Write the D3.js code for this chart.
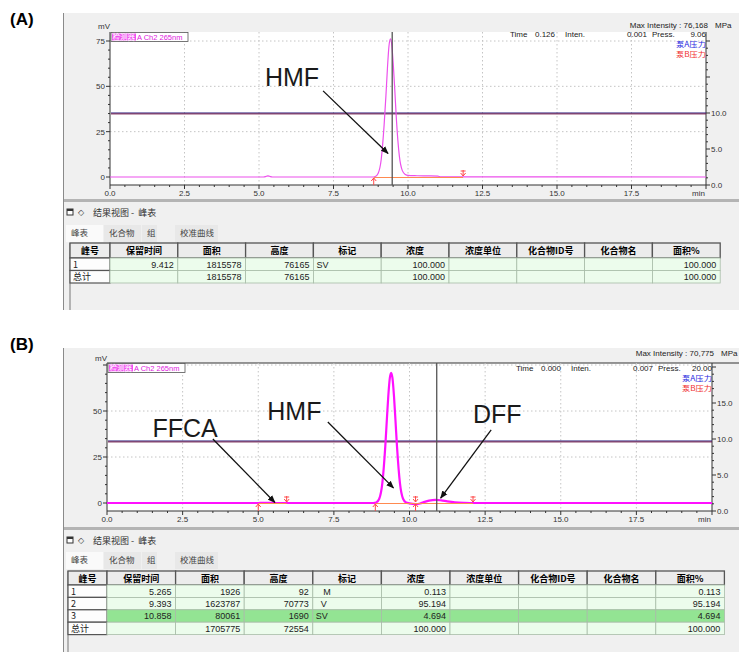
<!DOCTYPE html>
<html><head><meta charset="utf-8">
<script src="https://cdn.jsdelivr.net/npm/d3@7"></script>
<style>
body{margin:0;background:#fff}
text{font-family:"Liberation Sans",Arial,sans-serif}
.cjk{font-family:"Noto Sans CJK SC",sans-serif}
</style>
</head><body>
<svg width="739" height="652"></svg>
<script>
// ---------- data ----------
var colNames = ["峰号","保留时间","面积","高度","标记","浓度","浓度单位","化合物ID号","化合物名","面积%"];

var peakA = ["1","总计"],
    rtA   = ["9.412",""],
    areaA = ["1815578","1815578"],
    htA   = ["76165","76165"],
    markA = ["SV",""],
    concA = ["100.000","100.000"],
    pctA  = ["100.000","100.000"];

var peakB = ["1","2","3","总计"],
    rtB   = ["5.265","9.393","10.858",""],
    areaB = ["1926","1623787","80061","1705775"],
    htB   = ["92","70773","1690","72554"],
    markB = ["   M","  V","SV",""],
    concB = ["0.113","95.194","4.694","100.000"],
    pctB  = ["0.113","95.194","4.694","100.000"];

var xTicks = [0,2.5,5,7.5,10,12.5,15,17.5,20],
    xTickLabels = ["0.0","2.5","5.0","7.5","10.0","12.5","15.0","17.5","min"];
var yTicksA = [0,25,50,75], yTicksB = [0,25,50];
var rTicksA = [0,5,10], rTicksB = [0,5,10,15];
var rTickLabels = ["0.0","5.0","10.0","15.0"];

// chromatogram traces (min, mV)
var timeA = [0,5.15,5.25,5.3,5.35,5.45,8.8,8.9,9.0,9.1,9.2,9.26,9.31,9.36,9.412,9.46,9.51,9.56,9.61,9.71,9.81,9.91,10.0,10.3,10.6,11.0,11.1,20],
    mvA   = [0,0,0.4,0.6,0.4,0,0,0.3,2.1,9.5,29,45,60,72,76.2,72,61,47,32,11.5,3.5,1.4,0.9,0.7,0.6,0.5,0.1,0];
var timeB = [0,5.0,5.1,5.265,5.45,5.6,8.8,8.9,9.0,9.1,9.2,9.25,9.3,9.35,9.393,9.436,9.486,9.536,9.586,9.686,9.786,9.886,10.0,10.2,10.35,10.5,10.65,10.858,11.05,11.25,11.5,11.8,12.0,20],
    mvB   = [0,0,0.04,0.09,0.03,0,0,0.3,2.3,10.5,30.9,45,58.4,68,70.8,68,58.4,45,30.9,10.5,2.3,0.3,-0.2,-0.6,-0.3,0.6,1.3,1.7,1.4,0.9,0.4,0.1,0,0];

// pump pressure (MPa)
var pressA = 10.0, pressB = 9.72;
var cursorA = 9.47, cursorB = 10.9;

// baseline marks: start/end times
var baseStartA = [8.85], baseEndA = [11.85];
var baseStartB = [5.0, 8.87, 10.2], baseEndB = [5.94, 10.2, 12.1];

// annotations
var annoA = ["HMF"], annoTA = [5.2], annoVA = [50], annoFromTA = [7.15], annoFromVA = [47.5], annoToTA = [9.33], annoToVA = [13];
var annoB = ["FFCA","HMF","DFF"],
    annoTB = [1.5,5.3,12.1], annoVB = [36,45,43.5],
    annoFromTB = [3.5,7.3,12.7], annoFromVB = [34.8,44,39.7],
    annoToTB = [5.55,9.47,11.03], annoToVB = [0.3,8.2,2.7];

var infoA = {max:"76,168", time:"0.126", inten:"0.001", press:"9.06"};
var infoB = {max:"70,775", time:"0.000", inten:"0.007", press:"20.00"};

// ---------- drawing ----------
var svg = d3.select("svg");
var defs = svg.append("defs");
defs.append("marker").attr("id","arr").attr("viewBox","0 0 10 10")
  .attr("refX",9).attr("refY",5).attr("markerWidth",6).attr("markerHeight",6)
  .attr("orient","auto").append("path").attr("d","M0,1L10,5L0,9z").attr("fill","#111");

function drawPanel(L, d){
  var g = svg.append("g");
  g.append("text").attr("x",10).attr("y",L.labY).attr("font-size",17).attr("font-weight","bold").text(L.label);

  // chart window
  g.append("rect").attr("x",63).attr("y",L.winTop).attr("width",676).attr("height",L.winBot-L.winTop).attr("fill","#f0f0f0");
  g.append("rect").attr("x",63).attr("y",L.winBot).attr("width",676).attr("height",3).attr("fill","#b4b4b4");
  g.append("rect").attr("x",63).attr("y",L.winBot+3).attr("width",676).attr("height",L.resBot-L.winBot-3).attr("fill","#f0f0f0");
  g.append("line").attr("x1",63.5).attr("x2",63.5).attr("y1",L.winTop).attr("y2",L.resBot).attr("stroke","#8a8a8a");

  var x = d3.scaleLinear().domain([0,20]).range([L.x0,L.x1]);
  var y = d3.scaleLinear().domain([0,75]).range([L.y0,L.y75]);
  var yR = d3.scaleLinear().domain([0,10]).range([L.bot,L.bot-72]);

  g.append("rect").attr("x",L.x0).attr("y",L.top).attr("width",L.x1-L.x0).attr("height",L.bot-L.top).attr("fill","#fff");
  if(L.topLine) g.append("line").attr("x1",L.x0).attr("x2",739).attr("y1",L.top).attr("y2",L.top).attr("stroke","#333").attr("stroke-width",1.2);

  // grid
  g.selectAll(".gx").data(xTicks.slice(1,-1)).enter().append("line")
    .attr("x1",d=>x(d)).attr("x2",d=>x(d)).attr("y1",L.top).attr("y2",L.bot)
    .attr("stroke","#c4c4c4").attr("stroke-dasharray","1.5,2.5");
  g.selectAll(".gy").data([25,50,75].filter(v=>y(v)>L.top)).enter().append("line")
    .attr("x1",L.x0).attr("x2",L.x1).attr("y1",d=>y(d)).attr("y2",d=>y(d))
    .attr("stroke","#c4c4c4").attr("stroke-dasharray","1.5,2.5");

  // axes
  var ax = g.append("g").attr("stroke","#333").attr("stroke-width",1);
  ax.append("line").attr("x1",L.x0).attr("x2",L.x0).attr("y1",L.top).attr("y2",L.bot);
  ax.append("line").attr("x1",L.x0).attr("x2",L.x1).attr("y1",L.bot).attr("y2",L.bot);
  ax.append("line").attr("x1",L.x1).attr("x2",L.x1).attr("y1",L.top).attr("y2",L.bot);
  d3.range(0,20.01,0.5).forEach(function(t){
    var major = Math.abs(t/2.5-Math.round(t/2.5))<1e-6;
    ax.append("line").attr("x1",x(t)).attr("x2",x(t)).attr("y1",L.bot).attr("y2",L.bot+(major?4:2));
  });
  d3.range(-5,80,5).filter(v=>y(v)>=L.top&&y(v)<=L.bot).forEach(function(v){
    var major = v%25===0;
    ax.append("line").attr("x1",L.x0-(major?4:2)).attr("x2",L.x0).attr("y1",y(v)).attr("y2",y(v));
  });
  d3.range(0,21,1).filter(v=>yR(v)>=L.top).forEach(function(v){
    var major = v%5===0;
    ax.append("line").attr("x1",L.x1).attr("x2",L.x1+(major?4:2)).attr("y1",yR(v)).attr("y2",yR(v));
  });
  g.selectAll(".xl").data(xTicks).enter().append("text")
    .attr("x",(d,i)=>i===xTicks.length-1?x(d)-1:x(d)).attr("y",L.bot+11)
    .attr("text-anchor",(d,i)=>i===xTicks.length-1?"end":"middle")
    .attr("font-size",8).attr("fill","#333").text((d,i)=>xTickLabels[i]);
  g.selectAll(".yl").data(d.yTicks).enter().append("text")
    .attr("x",L.x0-5).attr("y",v=>y(v)+3).attr("text-anchor","end")
    .attr("font-size",8).attr("fill","#333").text(v=>v);
  g.selectAll(".rl").data(d.rTicks).enter().append("text")
    .attr("x",L.x1+5).attr("y",v=>yR(v)+3)
    .attr("font-size",8).attr("fill","#333").text((v,i)=>rTickLabels[i]);
  g.append("text").attr("x",L.x0-12).attr("y",L.mvY+3).attr("font-size",8).attr("fill","#333").text("mV");

  // header info
  var tb = L.timeY+2.5;
  var inf = g.append("g").attr("font-size",8).attr("fill","#222");
  inf.append("text").attr("x",L.x1+2).attr("y",L.maxY+2.5).attr("text-anchor","end").text("Max Intensity : "+d.info.max);
  inf.append("text").attr("x",L.x1+9).attr("y",L.maxY+2.5).text("MPa");
  inf.append("text").attr("x",L.x1-196).attr("y",tb).text("Time");
  inf.append("text").attr("x",L.x1-151).attr("y",tb).attr("text-anchor","end").text(d.info.time);
  inf.append("text").attr("x",L.x1-141).attr("y",tb).text("Inten.");
  inf.append("text").attr("x",L.x1-59).attr("y",tb).attr("text-anchor","end").text(d.info.inten);
  inf.append("text").attr("x",L.x1-54).attr("y",tb).text("Press.");
  inf.append("text").attr("x",L.x1).attr("y",tb).attr("text-anchor","end").text(d.info.press);
  g.append("text").attr("class","cjk").attr("x",L.x1-30).attr("y",tb+10.5).attr("font-size",7)
    .attr("textLength",30).attr("lengthAdjust","spacingAndGlyphs").attr("fill","#2a2ae0").text("泵A压力");
  g.append("text").attr("class","cjk").attr("x",L.x1-30).attr("y",tb+20.8).attr("font-size",7)
    .attr("textLength",30).attr("lengthAdjust","spacingAndGlyphs").attr("fill","#f03030").text("泵B压力");

  // legend box
  g.append("rect").attr("x",L.x0+1).attr("y",L.top+0.5).attr("width",77).attr("height",9).attr("fill","#fff").attr("stroke","#555").attr("stroke-width",0.8);
  g.append("rect").attr("x",L.x0+2).attr("y",L.top+1.5).attr("width",24).attr("height",7).attr("fill","#f050f0");
  g.append("text").attr("class","cjk").attr("x",L.x0+2.5).attr("y",L.top+8).attr("font-size",7.5).attr("fill","#fff").text("检测器");
  g.append("text").attr("x",L.x0+27).attr("y",L.top+8).attr("font-size",7.5).attr("fill","#e020e0").text("A Ch2 265nm");

  // pressure
  g.append("line").attr("x1",L.x0+1).attr("x2",L.x1).attr("y1",yR(d.press)).attr("y2",yR(d.press))
    .attr("stroke","#24187a").attr("stroke-width",1.2);
  g.append("line").attr("x1",L.x0+1).attr("x2",L.x1).attr("y1",yR(d.press)+0.9).attr("y2",yR(d.press)+0.9)
    .attr("stroke","#701a48").attr("stroke-width",1);

  // trace
  var pts = d.time.map((t,i)=>[t,d.mv[i]]);
  g.append("path").attr("d",d3.line().x(p=>x(p[0])).y(p=>y(p[1])).curve(d3.curveMonotoneX)(pts))
    .attr("fill","none").attr("stroke",L.traceColor).attr("stroke-width",L.traceW);

  // baselines
  d.bs.forEach(function(s,i){
    g.append("line").attr("x1",x(s)).attr("x2",x(d.be[i])).attr("y1",y(0)+0.5).attr("y2",y(0)+0.5)
      .attr("stroke","#ff8a50").attr("stroke-width",1);
  });
  var mk = g.append("g").attr("stroke","#ff4848").attr("stroke-width",1).attr("fill","none");
  d.bs.forEach(function(s){
    var px = x(s), py = y(0);
    mk.append("path").attr("d","M"+px+","+(py+8)+"V"+(py+1)+"M"+(px-2.5)+","+(py+4)+"L"+px+","+(py+1)+"L"+(px+2.5)+","+(py+4));
  });
  d.be.forEach(function(s){
    var px = x(s), py = y(0);
    mk.append("path").attr("d","M"+px+","+(py-7)+"V"+(py-1)+"M"+(px-2.5)+","+(py-4)+"L"+px+","+(py-1)+"L"+(px+2.5)+","+(py-4)+"M"+(px-2.5)+","+(py-6)+"H"+(px+2.5));
  });

  // cursor
  g.append("line").attr("x1",x(d.cursor)).attr("x2",x(d.cursor)).attr("y1",L.top).attr("y2",L.bot)
    .attr("stroke","#555").attr("stroke-width",1.3);

  // annotations
  d.anno.forEach(function(a,i){
    g.append("text").attr("x",x(d.annoT[i])).attr("y",y(d.annoV[i])).attr("font-size",25).attr("fill","#1a1a1a").text(a);
    g.append("line").attr("x1",x(d.fromT[i])).attr("y1",y(d.fromV[i])).attr("x2",x(d.toT[i])).attr("y2",y(d.toV[i]))
      .attr("stroke","#111").attr("stroke-width",1.3).attr("marker-end","url(#arr)");
  });

  // results panel
  var r = g.append("g");
  r.append("rect").attr("x",67).attr("y",L.resTitle-3).attr("width",6).attr("height",6).attr("fill","#fff").attr("stroke","#333");
  r.append("rect").attr("x",67).attr("y",L.resTitle-3).attr("width",6).attr("height",2).attr("fill","#333");
  r.append("text").attr("x",78).attr("y",L.resTitle+3).attr("font-size",8).attr("fill","#333").text("◇");
  r.append("text").attr("class","cjk").attr("x",93).attr("y",L.resTitle+3.5).attr("font-size",9).attr("fill","#333").attr("xml:space","preserve").text("结果视图 -  峰表");
  var tabs = [["峰表",66,37],["化合物",104,37],["组",142,15],["校准曲线",175,43]];
  tabs.forEach(function(t,i){
    r.append("rect").attr("x",t[1]).attr("y",L.tabY-8).attr("width",t[2]).attr("height",17)
      .attr("fill",i===0?"#fafafa":"#e8e8e8");
    r.append("text").attr("class","cjk").attr("x",t[1]+5).attr("y",L.tabY+3).attr("font-size",8.5).attr("fill","#444").text(t[0]);
  });

  // table
  var cols = d.rows[0].length;
  var cx = [L.tLeft, L.tLeft+L.firstW];
  for(var c=2;c<=cols;c++) cx.push(L.tLeft+L.firstW+(c-1)*L.colW);
  r.append("line").attr("x1",L.tLeft).attr("x2",L.tLeft).attr("y1",L.hTop).attr("y2",L.resBot).attr("stroke","#777");
  colNames.forEach(function(h,c){
    r.append("rect").attr("x",cx[c]).attr("y",L.hTop).attr("width",cx[c+1]-cx[c]).attr("height",L.hH)
      .attr("fill","#ececec").attr("stroke","#555").attr("stroke-width",1.3);
    r.append("text").attr("class","cjk").attr("x",(cx[c]+cx[c+1])/2).attr("y",L.hTop+L.hH/2+3.5)
      .attr("text-anchor","middle").attr("font-size",9).attr("font-weight","bold").text(h);
  });
  d.rows.forEach(function(row,ri){
    var ry = L.hTop+L.hH+ri*L.rH;
    row.forEach(function(v,c){
      var first = c===0;
      r.append("rect").attr("x",cx[c]).attr("y",ry).attr("width",cx[c+1]-cx[c]).attr("height",L.rH)
        .attr("fill",first?"#fdfdfd":(ri===d.hiRow?"#93e493":"#ecfcec"))
        .attr("stroke",first?"#555":"#a8bca8").attr("stroke-width",first?1.2:0.8);
      var left = first||c===4;
      r.append("text").attr("class",first?"cjk":null).attr("xml:space","preserve")
        .attr("x",left?cx[c]+3:cx[c+1]-4).attr("y",ry+L.rH/2+3.3)
        .attr("text-anchor",left?"start":"end").attr("font-size",9)
        .attr("font-family",first?null:"Liberation Serif, serif").attr("fill","#222").text(v);
    });
  });
}

function rowsOf(a){ // build table rows from the column arrays
  return a[0].map((_,i)=>[a[0][i],a[1][i],a[2][i],a[3][i],a[4][i],a[5][i],"","","",a[6][i]]);
}

drawPanel({label:"(A)",labY:25,winTop:13,winBot:199,resBot:310,x0:110,x1:706,top:32,bot:185,y0:177,y75:41,
  maxY:25,timeY:34,mvY:26,topLine:false,traceColor:"#ec50ec",traceW:1.2,
  resTitle:212,tabY:233,tLeft:70,firstW:40,colW:67.8,hTop:243,hH:15,rH:12.5},
  {yTicks:yTicksA,rTicks:rTicksA,time:timeA,mv:mvA,press:pressA,cursor:cursorA,bs:baseStartA,be:baseEndA,
   anno:annoA,annoT:annoTA,annoV:annoVA,fromT:annoFromTA,fromV:annoFromVA,toT:annoToTA,toV:annoToVA,
   info:infoA,rows:rowsOf([peakA,rtA,areaA,htA,markA,concA,pctA]),hiRow:-1});

drawPanel({label:"(B)",labY:350,winTop:348,winBot:527,resBot:652,x0:107,x1:712,top:363,bot:511,y0:503,y75:365,
  maxY:353,timeY:368,mvY:358,topLine:true,traceColor:"#ff10ff",traceW:2.2,
  resTitle:540,tabY:560,tLeft:68,firstW:39,colW:68.6,hTop:571,hH:14,rH:12.4},
  {yTicks:yTicksB,rTicks:rTicksB,time:timeB,mv:mvB,press:pressB,cursor:cursorB,bs:baseStartB,be:baseEndB,
   anno:annoB,annoT:annoTB,annoV:annoVB,fromT:annoFromTB,fromV:annoFromVB,toT:annoToTB,toV:annoToVB,
   info:infoB,rows:rowsOf([peakB,rtB,areaB,htB,markB,concB,pctB]),hiRow:2});
</script>
</body></html>
